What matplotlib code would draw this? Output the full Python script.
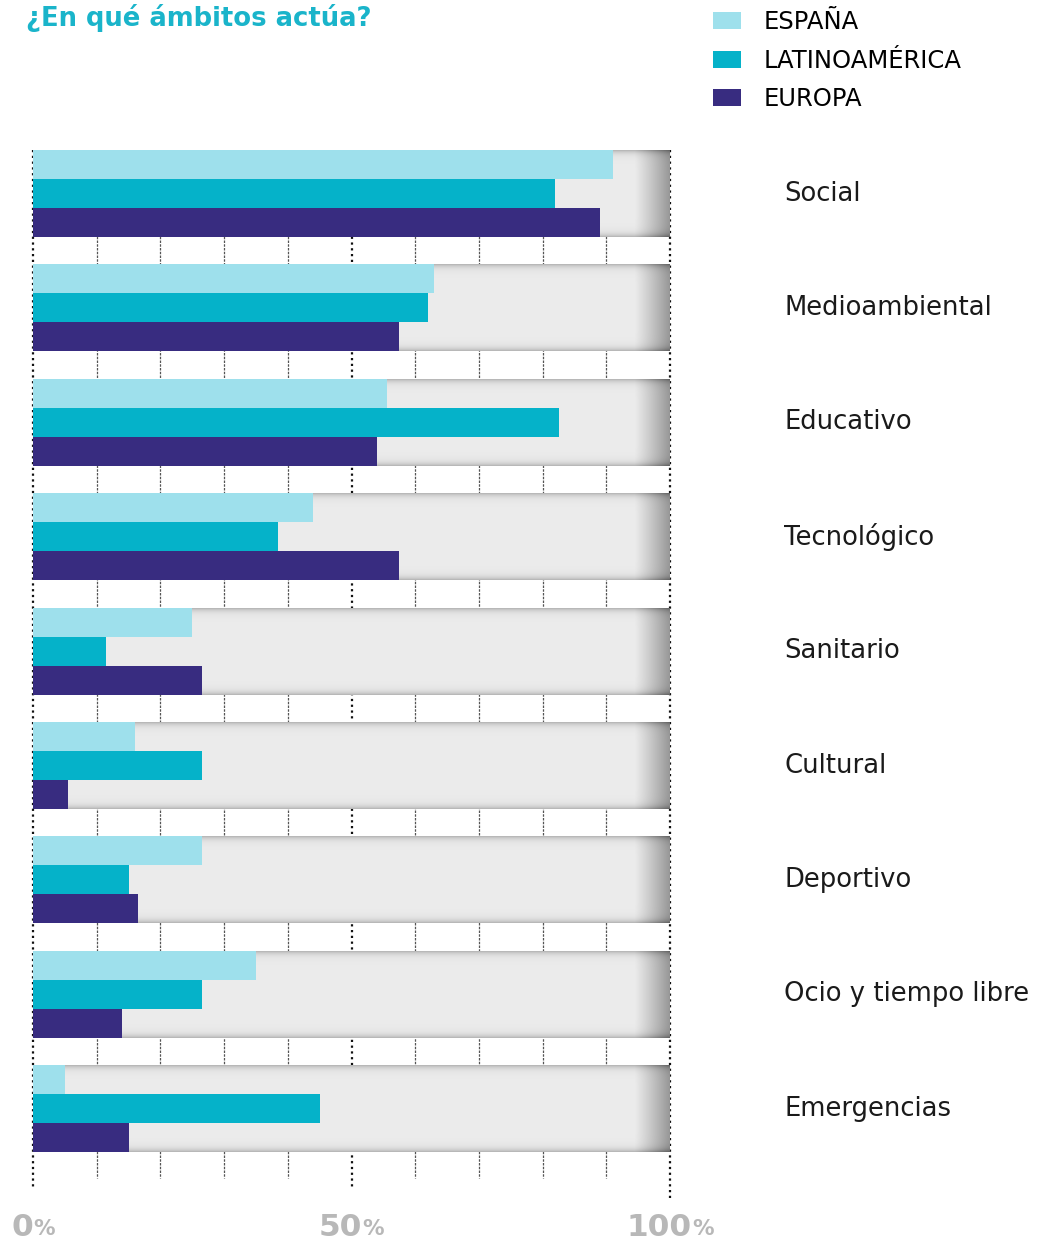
import matplotlib
matplotlib.use('Agg')
import numpy as np
import matplotlib.pyplot as plt
from matplotlib.patches import Patch

# ámbitos de actuación, porcentaje por región
categories = ['Social', 'Medioambiental', 'Educativo', 'Tecnológico', 'Sanitario',
              'Cultural', 'Deportivo', 'Ocio y tiempo libre', 'Emergencias']
espana = [91, 63, 55.5, 44, 25, 16, 26.5, 35, 5]
latam = [82, 62, 82.5, 38.5, 11.5, 26.5, 15, 26.5, 45]
europa = [89, 57.5, 54, 57.5, 26.5, 5.5, 16.5, 14, 15]
series_names = ['ESPAÑA', 'LATINOAMÉRICA', 'EUROPA']
tick_values = [0, 50, 100]

colors = ['#9ee0ec', '#05b2c9', '#382c80']
title_color = '#1ab4ca'

plt.rcParams['font.family'] = ['DejaVu Sans']

W, H = 1051, 1244
fig = plt.figure(figsize=(W / 100, H / 100), dpi=100)
ax = fig.add_axes([33 / W, 1 - 1200 / H, 637 / W, 1060 / H])
ax.axis('off')

band_h = 0.76
bar_h = band_h / 3
n = len(categories)
y = np.arange(n)


def band_image(rows=87, cols=637):
    # light grey track, darker at top/bottom edges and at the right end
    yy = np.arange(rows)
    d = np.minimum(yy, rows - 1 - yy)
    v = 0.925 - 0.2 * np.exp(-d / 3.2)
    img = np.tile(v[:, None], (1, cols))
    xx = np.arange(cols)
    ramp = np.clip((xx - (cols - 36)) / 36, 0, 1) ** 1.1
    img = img - 0.34 * ramp[None, :]
    return np.dstack([img, img, img])


band = band_image()
for i in y:
    ax.imshow(band, extent=[0, 100, i + band_h / 2, i - band_h / 2],
              aspect='auto', interpolation='bilinear', zorder=1)

# vertical guide lines every 10 %
top = -band_h / 2
for xv in range(10, 100, 10):
    if xv == 50:
        continue
    ax.vlines(xv, top, 8.61, colors='#555555', linewidth=0.9,
              linestyles=(0, (2, 1)), zorder=0, clip_on=False)
for xv, end in [(0, 8.71), (50, 8.71), (100, 8.78)]:
    ax.vlines(xv, top, end, colors='#111111', linewidth=1.6,
              linestyles=(0, (1, 1.6)), zorder=0, clip_on=False)

for k, (vals, col) in enumerate(zip([espana, latam, europa], colors)):
    ax.barh(y + (k - 1) * bar_h, vals, height=bar_h, color=col,
            linewidth=0, zorder=2)

for i, cat in enumerate(categories):
    ax.text(117.9, i, cat, fontsize=18.6, color='#1a1a1a', va='center',
            ha='left', clip_on=False)

ax.set_xlim(0, 100)
ax.set_ylim(8.798, -0.468)

fig.text(26 / W, 1 - 18 / H, '¿En qué ámbitos actúa?', fontsize=18.6,
         fontweight='bold', color=title_color, va='center', ha='left')

fs = 17.5
handles = [Patch(facecolor=c, edgecolor='none') for c in colors]
fig.legend(handles, series_names, loc='upper left',
           bbox_to_anchor=(696 / W, 1 + 7 / H), frameon=False,
           fontsize=fs, handlelength=1.15, handleheight=0.7,
           handletextpad=0.95, labelspacing=0.6, borderpad=0.2)

# axis labels: large bold number with a smaller percent sign
renderer = fig.canvas.get_renderer()
for tv in tick_values:
    cx = ax.transData.transform((tv, 0))[0]
    cy = H - 1227
    t1 = fig.text(0, cy, str(tv), fontsize=22.5, fontweight='bold',
                  color='#b8b8b8', va='center', ha='left', transform=None)
    t2 = fig.text(0, cy - 2, '%', fontsize=15.5, fontweight='bold',
                  color='#b8b8b8', va='center', ha='left', transform=None)
    w1 = t1.get_window_extent(renderer).width
    w2 = t2.get_window_extent(renderer).width
    x0 = cx - (w1 + w2) / 2
    t1.set_x(x0)
    t2.set_x(x0 + w1)

fig.savefig('out.png', dpi=100, facecolor='white')
